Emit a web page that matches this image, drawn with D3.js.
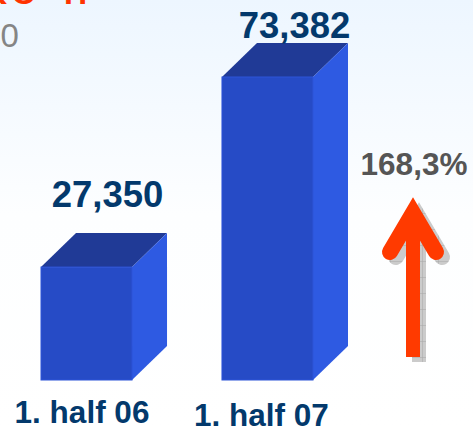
<!DOCTYPE html>
<html>
<head>
<meta charset="utf-8">
<script src="https://cdn.jsdelivr.net/npm/d3@7"></script>
<style>
  html, body { margin: 0; padding: 0; background: #fff; overflow: hidden; }
  svg { display: block; font-family: "Liberation Sans", Arial, sans-serif; }
</style>
</head>
<body>
<div class="canvas"></div>
<script>
// chart values
const periods = ['1. half 06', '1. half 07'];
const amounts = [27350, 73382];
const amountLabels = ['27,350', '73,382'];
const growthLabel = '168,3%';

const width = 473;
const height = 428;

const svg = d3.select('.canvas')
  .append('svg')
    .attr('width', width)
    .attr('height', height);

const defs = svg.append('defs');

// page background fades from pale blue to white
const bg = defs.append('linearGradient')
  .attr('id', 'bg')
  .attr('x1', 0).attr('y1', 0).attr('x2', 0).attr('y2', 1);
bg.append('stop').attr('offset', '0%').attr('stop-color', '#edf6ff');
bg.append('stop').attr('offset', '50%').attr('stop-color', '#fdfeff');
bg.append('stop').attr('offset', '100%').attr('stop-color', '#ffffff');

// grey hatch used by the arrow shadow
const hatch = defs.append('pattern')
  .attr('id', 'hatch')
  .attr('width', 16).attr('height', 16)
  .attr('patternUnits', 'userSpaceOnUse');
hatch.append('rect').attr('width', 16).attr('height', 16).attr('fill', '#cbcbcb');
hatch.append('path').attr('d', 'M0 0H16M0 0V16').attr('stroke', '#a8a8a8').attr('stroke-width', 1);

svg.append('rect')
  .attr('width', width)
  .attr('height', height)
  .attr('fill', 'url(#bg)');

// cropped heading and subheading at the top edge
svg.append('text')
  .attr('x', '-16 11.5 64')
  .attr('y', 4)
  .attr('font-size', 32).attr('font-weight', 700)
  .attr('fill', '#ff3300')
  .text('KOH');
svg.append('text')
  .attr('x', 0.5).attr('y', 47)
  .attr('font-size', 33)
  .attr('fill', '#858585')
  .text('0');

// scales
const x = d3.scaleBand()
  .domain(periods)
  .range([41, 313])
  .paddingInner(0.497)
  .paddingOuter(0);

const y = d3.scaleLinear()
  .domain([0, 73382])
  .range([380, 77]);

const depthX = 35;
const depthY = 34;

const bars = svg.selectAll('g.bar')
  .data(periods)
  .enter()
  .append('g')
    .attr('class', 'bar');

// top face
bars.append('path')
  .attr('fill', '#203a96')
  .attr('d', (d, i) => {
    const x0 = x(d), x1 = x0 + x.bandwidth(), t = y(amounts[i]);
    return `M${x0},${t}L${x0 + depthX},${t - depthY}L${x1 + depthX},${t - depthY}L${x1},${t}Z`;
  });

// side face
bars.append('path')
  .attr('fill', '#2e5ae2')
  .attr('d', (d, i) => {
    const x1 = x(d) + x.bandwidth(), t = y(amounts[i]), b = y(0);
    return `M${x1},${t}L${x1 + depthX},${t - depthY}L${x1 + depthX},${b - depthY}L${x1},${b}Z`;
  });

// front face
bars.append('rect')
  .attr('x', d => x(d))
  .attr('y', (d, i) => y(amounts[i]))
  .attr('width', x.bandwidth())
  .attr('height', (d, i) => y(0) - y(amounts[i]))
  .attr('fill', '#264bc6')
  .attr('stroke', '#2c54d8')
  .attr('stroke-width', 1);

// value labels
const valueNudge = [21, 27];
const valueBase = [207, 38];
bars.append('text')
  .attr('x', (d, i) => x(d) + x.bandwidth() / 2 + valueNudge[i])
  .attr('y', (d, i) => valueBase[i])
  .attr('text-anchor', 'middle')
  .attr('font-size', 36.5)
  .attr('font-weight', 700)
  .attr('fill', '#03396c')
  .text((d, i) => amountLabels[i]);

// category labels
const labelNudge = [-4.5, -6];
const labelBase = [423, 426];
bars.append('text')
  .attr('x', (d, i) => x(d) + x.bandwidth() / 2 + labelNudge[i])
  .attr('y', (d, i) => labelBase[i])
  .attr('text-anchor', 'middle')
  .attr('font-size', 31.5)
  .attr('font-weight', 700)
  .attr('fill', '#03396c')
  .text(d => d);

// growth label and arrow
svg.append('text')
  .attr('x', 414).attr('y', 175)
  .attr('text-anchor', 'middle')
  .attr('font-size', 31.5)
  .attr('font-weight', 700)
  .attr('fill', '#555555')
  .text(growthLabel);

const drawArrow = (g, color) => {
  g.append('path')
    .attr('d', 'M390,252L413,213L436,252')
    .attr('fill', 'none')
    .attr('stroke', color)
    .attr('stroke-width', 16)
    .attr('stroke-linecap', 'round')
    .attr('stroke-linejoin', 'miter')
    .attr('stroke-miterlimit', 10);
  g.append('path')
    .attr('d', 'M413,215V357')
    .attr('fill', 'none')
    .attr('stroke', color)
    .attr('stroke-width', 14);
};

drawArrow(svg.append('g').attr('transform', 'translate(6,5)'), 'url(#hatch)');
drawArrow(svg.append('g'), '#ff3a00');
</script>
</body>
</html>
